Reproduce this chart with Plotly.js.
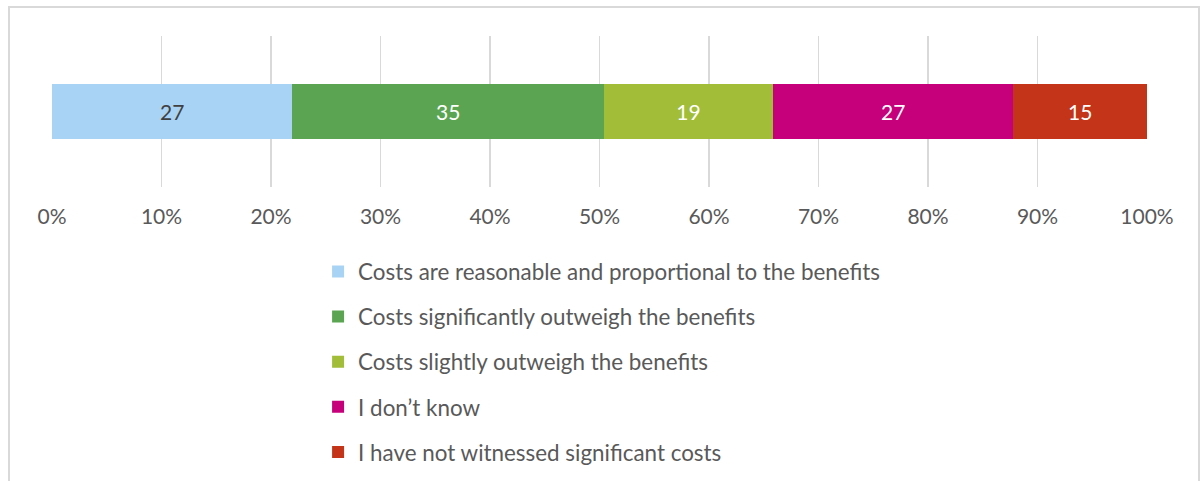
<!DOCTYPE html>
<html>
<head>
<meta charset="utf-8">
<script src="https://cdn.plot.ly/plotly-3.0.1.min.js"></script>
<style>
  html, body { margin: 0; padding: 0; background: #fff; overflow: hidden; }
  #wrap { position: relative; width: 1204px; height: 481px; overflow: hidden; }
  #frame { position: absolute; left: 8px; top: 6px; width: 1192px; height: 500px;
           border: 2px solid #d9d9d9; border-bottom: none; box-sizing: border-box; pointer-events: none; }
  #chart { position: absolute; left: 0; top: 0; width: 1204px; height: 540px; }
</style>
</head>
<body>
<div id="wrap">
  <div id="chart"></div>
  <div id="frame"></div>
</div>
<script>
const categories = [''];
const seriesNames = [
  'Costs are reasonable and proportional to the benefits',
  'Costs significantly outweigh the benefits',
  'Costs slightly outweigh the benefits',
  'I don\u2019t know',
  'I have not witnessed significant costs'
];
const seriesValues = [27, 35, 19, 27, 15];
const seriesColors = ['#A9D3F5', '#5BA552', '#A2BD38', '#C6007B', '#C43419'];
const labelColors = ['#404040', '#ffffff', '#ffffff', '#ffffff', '#ffffff'];
const tickValues = [0, 10, 20, 30, 40, 50, 60, 70, 80, 90, 100];
const tickLabels = ['0%', '10%', '20%', '30%', '40%', '50%', '60%', '70%', '80%', '90%', '100%'];

const FONT = 'Lato, "Open Sans", "DejaVu Sans", sans-serif';

const traces = seriesNames.map((name, i) => ({
  type: 'bar',
  orientation: 'h',
  name: name,
  legendgroup: 'g' + i,
  y: categories,
  x: [seriesValues[i]],
  text: [String(seriesValues[i])],
  textposition: 'inside',
  insidetextanchor: 'middle',
  constraintext: 'none',
  textfont: { family: FONT, size: 21, color: labelColors[i] },
  marker: { color: seriesColors[i], line: { width: 0 } },
  hoverinfo: 'none'
}));

// Figure is drawn taller than the 481px window (clipped by #wrap) so the
// legend never forces Plotly to shrink the plot area.
const FIG_H = 540;
const PLOT_TOP = 36, PLOT_BOTTOM = 187;

const layout = {
  width: 1204,
  height: FIG_H,
  barmode: 'stack',
  barnorm: 'percent',
  bargap: 0.64,
  paper_bgcolor: 'rgba(0,0,0,0)',
  plot_bgcolor: 'rgba(0,0,0,0)',
  margin: { l: 52, r: 57, t: PLOT_TOP, b: FIG_H - PLOT_BOTTOM, pad: 0 },
  font: { family: FONT, size: 21, color: '#595959' },
  showlegend: true,
  legend: {
    orientation: 'v',
    traceorder: 'grouped',
    x: 0.243, xanchor: 'left',
    y: -0.42, yanchor: 'top',
    tracegroupgap: 13,
    font: { family: FONT, size: 22.4, color: '#595959' },
    bgcolor: 'rgba(0,0,0,0)'
  },
  xaxis: {
    range: [0, 100],
    tickvals: tickValues,
    ticktext: tickLabels,
    showgrid: true,
    gridcolor: '#D9D9D9',
    gridwidth: 1.5,
    zeroline: false,
    showline: false,
    ticks: '',
    ticklabelstandoff: 15,
    tickfont: { family: FONT, size: 21, color: '#595959' },
    fixedrange: true
  },
  yaxis: {
    showgrid: false,
    zeroline: false,
    showline: false,
    showticklabels: false,
    ticks: '',
    fixedrange: true
  }
};

Plotly.newPlot('chart', traces, layout, { displayModeBar: false, staticPlot: true });
</script>
</body>
</html>
